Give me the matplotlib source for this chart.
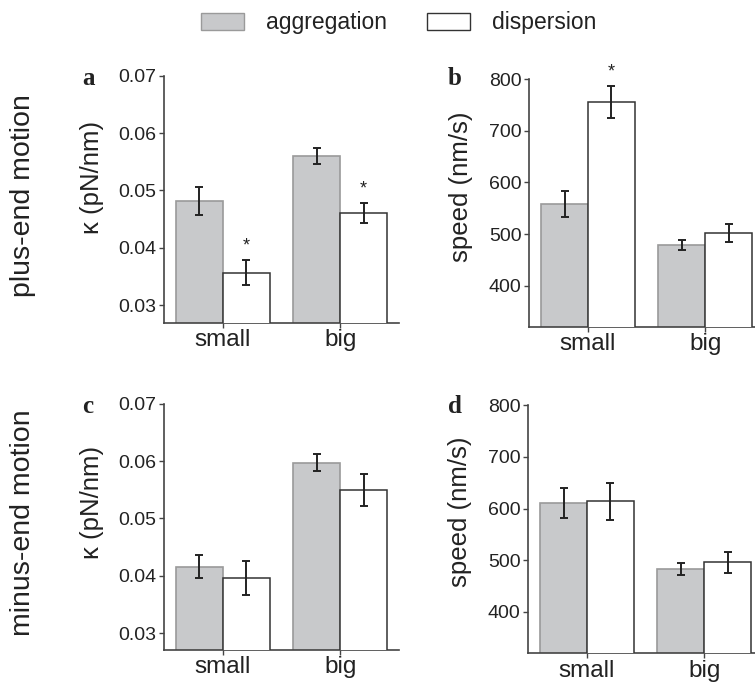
import numpy as np
import matplotlib
matplotlib.use("Agg")
from matplotlib import pyplot as plt
from matplotlib.patches import Patch

plt.rcParams['font.family'] = ['Liberation Sans', 'DejaVu Sans']

categories = ["small", "big"]

# plus-end motion
kappa_plus_agg = [0.0482, 0.0560]
kappa_plus_agg_err = [0.0024, 0.0014]
kappa_plus_dis = [0.0357, 0.0461]
kappa_plus_dis_err = [0.0022, 0.0018]
speed_plus_agg = [558, 479]
speed_plus_agg_err = [25, 10]
speed_plus_dis = [756, 502]
speed_plus_dis_err = [31, 18]

# minus-end motion
kappa_minus_agg = [0.0416, 0.0597]
kappa_minus_agg_err = [0.0020, 0.0015]
kappa_minus_dis = [0.0396, 0.0549]
kappa_minus_dis_err = [0.0030, 0.0028]
speed_minus_agg = [611, 483]
speed_minus_agg_err = [29, 12]
speed_minus_dis = [614, 496]
speed_minus_dis_err = [36, 20]

# significance marks on the dispersion bars
stars_kappa_plus = [True, True]
stars_speed_plus = [True, False]
no_stars = [False, False]

W, H = 755, 683
fig = plt.figure(figsize=(W / 100, H / 100), dpi=100)

AGG_FACE = "#c8c9cb"
AGG_EDGE = "#9a9a9a"
DIS_EDGE = "#333333"
width = 0.4


def px_axes(left, right, top, bottom):
    return fig.add_axes([left / W, 1 - bottom / H, (right - left) / W, (bottom - top) / H])


def bar_panel(ax, agg, agg_err, dis, dis_err, stars, ylim, yticks, ticklabels, ylabel, label_y, label_x):
    x = np.arange(len(categories))
    ax.bar(x - width / 2, agg, width, color=AGG_FACE, edgecolor=AGG_EDGE, linewidth=1.2, zorder=2)
    ax.bar(x + width / 2, dis, width, color="white", edgecolor=DIS_EDGE, linewidth=1.1, zorder=3)
    ax.errorbar(x - width / 2, agg, yerr=agg_err, fmt="none", ecolor="#222222",
                elinewidth=1.4, capsize=3, capthick=1.4, zorder=4)
    ax.errorbar(x + width / 2, dis, yerr=dis_err, fmt="none", ecolor="#222222",
                elinewidth=1.4, capsize=3, capthick=1.4, zorder=4)
    for i, s in enumerate(stars):
        if s:
            ax.annotate("*", (x[i] + width / 2, dis[i] + dis_err[i]), xytext=(0, 10),
                        textcoords="offset points", ha="center", va="center",
                        fontsize=13, color="#222222", annotation_clip=False)
    ax.set_xlim(-0.5, 1.5)
    ax.set_ylim(*ylim)
    ax.set_yticks(yticks)
    ax.set_yticklabels(ticklabels)
    ax.set_xticks(x)
    ax.set_xticklabels(categories, fontsize=17.5)
    ax.tick_params(axis="y", labelsize=14, length=3.5, width=1, color="#444444",
                   labelcolor="#222222", pad=2)
    ax.tick_params(axis="x", length=3.5, width=1, color="#444444", labelcolor="#222222", pad=1)
    for side in ["top", "right"]:
        ax.spines[side].set_visible(False)
    for side in ["left", "bottom"]:
        ax.spines[side].set_color("#444444")
        ax.spines[side].set_linewidth(1.2)
    ax.set_ylabel(ylabel, fontsize=18.5, color="#222222")
    ax.yaxis.set_label_coords(label_x, label_y)


kappa_ticks = [0.03, 0.04, 0.05, 0.06, 0.07]
kappa_labels = ["0.03", "0.04", "0.05", "0.06", "0.07"]
speed_ticks = [400, 500, 600, 700, 800]
speed_labels = ["400", "500", "600", "700", "800"]

ax_a = px_axes(164, 399, 75.7, 323)
bar_panel(ax_a, kappa_plus_agg, kappa_plus_agg_err, kappa_plus_dis, kappa_plus_dis_err,
          stars_kappa_plus, (0.0269, 0.07), kappa_ticks, kappa_labels, "κ (pN/nm)", 0.59, -0.255)

ax_b = px_axes(529.3, 764, 79.3, 326.7)
bar_panel(ax_b, speed_plus_agg, speed_plus_agg_err, speed_plus_dis, speed_plus_dis_err,
          stars_speed_plus, (320.5, 800), speed_ticks, speed_labels, "speed (nm/s)", 0.567, -0.239)

ax_c = px_axes(164, 399, 403.6, 650)
bar_panel(ax_c, kappa_minus_agg, kappa_minus_agg_err, kappa_minus_dis, kappa_minus_dis_err,
          no_stars, (0.0271, 0.07), kappa_ticks, kappa_labels, "κ (pN/nm)", 0.6, -0.255)

ax_d = px_axes(528.3, 763, 405.3, 653.3)
bar_panel(ax_d, speed_minus_agg, speed_minus_agg_err, speed_minus_dis, speed_minus_dis_err,
          no_stars, (320, 800), speed_ticks, speed_labels, "speed (nm/s)", 0.571, -0.238)

# panel letters
for letter, (px, py) in zip("abcd", [(82, 85), (448, 85), (82, 413), (448, 413)]):
    fig.text(px / W, 1 - py / H, letter, fontsize=18, fontweight="bold",
             family=["Liberation Serif", "DejaVu Serif"], ha="left", va="baseline", color="#222222")

# row labels
fig.text(23 / W, 1 - 196 / H, "plus-end motion", rotation=90, fontsize=20.5,
         ha="center", va="center", color="#222222")
fig.text(23 / W, 1 - 523 / H, "minus-end motion", rotation=90, fontsize=20.5,
         ha="center", va="center", color="#222222")

handles = [Patch(facecolor=AGG_FACE, edgecolor=AGG_EDGE, linewidth=1.0, label="aggregation"),
           Patch(facecolor="white", edgecolor=DIS_EDGE, linewidth=1.0, label="dispersion")]
leg = fig.legend(handles=handles, loc="center left", bbox_to_anchor=(201 / W, 1 - 23 / H),
                 ncol=2, frameon=False, fontsize=16.5, handlelength=1.88, handleheight=0.79,
                 handletextpad=0.96, columnspacing=1.75, borderpad=0, borderaxespad=0)
for t in leg.get_texts():
    t.set_color("#222222")

fig.savefig("out.png", dpi=100)
